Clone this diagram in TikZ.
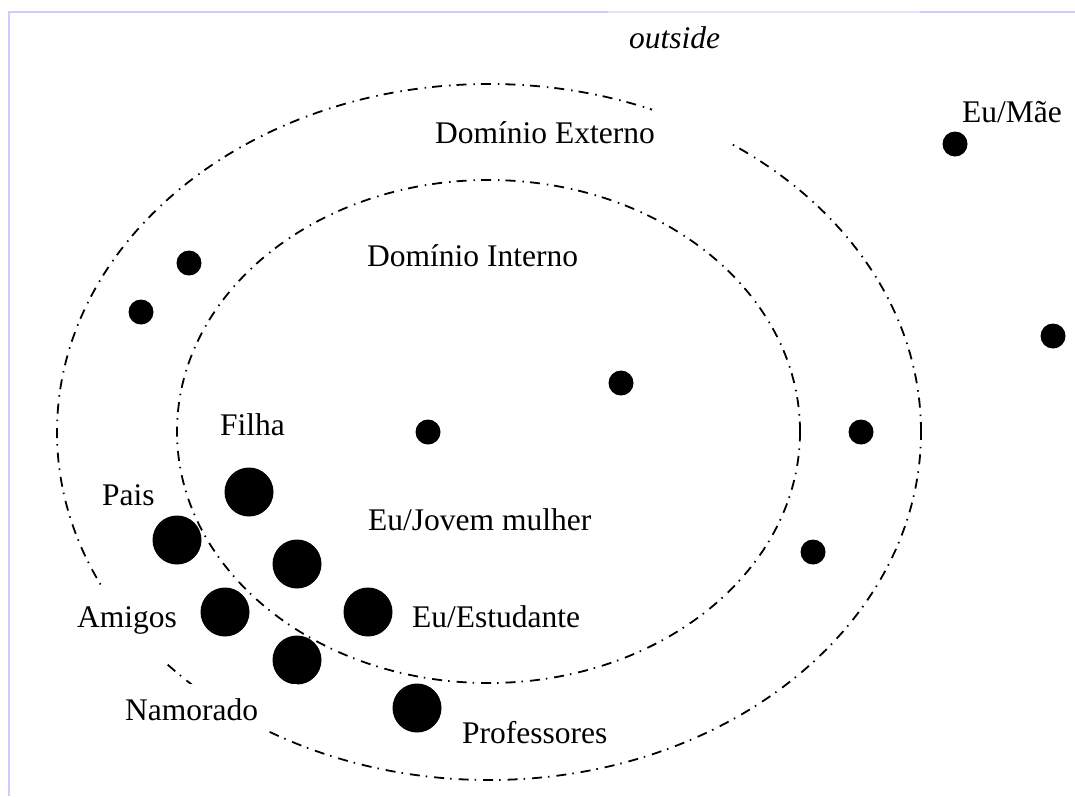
\documentclass[tikz,border=0pt]{standalone}
\usepackage{fontspec}
\setmainfont{Liberation Serif}
\definecolor{frameblue}{RGB}{204,204,255}
\definecolor{framelight}{RGB}{226,226,255}
\begin{document}
\begin{tikzpicture}[x=1pt,y=-1pt,
  ring/.style={line width=1.8pt, dash pattern=on 10pt off 6pt on 1.5pt off 7pt},
  lbl/.style={anchor=base west, inner sep=0pt, font=\fontsize{31.5}{38}\selectfont},
  ilbl/.style={lbl, font=\fontsize{31.5}{38}\selectfont\itshape},
  sdot/.style={circle, fill=black, inner sep=0pt, minimum size=25pt},
  bdot/.style={circle, fill=black, inner sep=0pt, minimum size=49pt},
  mask/.style={fill=white, draw=none}]
\useasboundingbox (0,0) rectangle (1075,796);
% frame
\draw[frameblue, line width=2pt] (9,796) -- (9,12) -- (608,12);
\draw[framelight, line width=1.2pt] (608,12) -- (920,12);
\draw[frameblue, line width=2pt] (920,12) -- (1075,12);
% domains
\draw[ring] (489,432) ellipse [x radius=432pt, y radius=348pt];
\draw[ring] (488.5,431.5) ellipse [x radius=311.5pt, y radius=251.5pt];
% small dots
\node[sdot] (d1) at (955,144) {};
\node[sdot] (d2) at (189,263) {};
\node[sdot] (d3) at (141,312) {};
\node[sdot] (d4) at (1053,336) {};
\node[sdot] (d5) at (621,383) {};
\node[sdot] (d6) at (428,432) {};
\node[sdot] (d7) at (861,432) {};
\node[sdot] (d8) at (813,552) {};
% big dots
\node[bdot] (b1) at (249,492) {};
\node[bdot] (b2) at (177,540) {};
\node[bdot] (b3) at (297,564) {};
\node[bdot] (b4) at (225,612) {};
\node[bdot] (b5) at (368,612) {};
\node[bdot] (b6) at (297,660) {};
\node[bdot] (b7) at (417,708) {};
% label boxes hiding the ring
\fill[mask] (652,109) rectangle (729,150);
\fill[mask] (95,588) rectangle (168,662);
\fill[mask] (120,683.5) rectangle (297,731);
% labels
\node[ilbl] (outside) at (629,48) {outside};
\node[lbl] (ext) at (435,143) {Domínio Externo};
\node[lbl] (mae) at (962,122) {Eu/Mãe};
\node[lbl] (int) at (367,266) {Domínio Interno};
\node[lbl] (filha) at (220,435) {Filha};
\node[lbl] (pais) at (102,505) {Pais};
\node[lbl] (jovem) at (368,530) {Eu/Jovem mulher};
\node[lbl] (amigos) at (77,627) {Amigos};
\node[lbl] (estud) at (412,627) {Eu/Estudante};
\node[lbl] (namorado) at (125,720) {Namorado};
\node[lbl] (prof) at (462,743) {Professores};
\end{tikzpicture}
\end{document}
